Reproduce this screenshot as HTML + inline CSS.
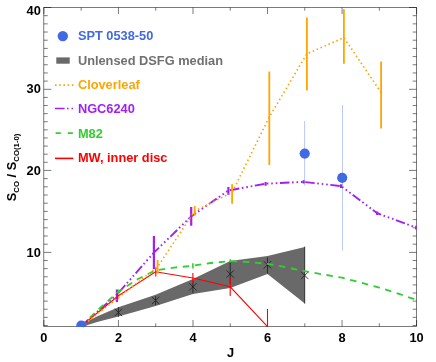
<!DOCTYPE html>
<html><head><meta charset="utf-8"><title>CO SLED</title>
<style>
html,body{margin:0;padding:0;background:#fff;}
body{width:436px;height:362px;overflow:hidden;}
svg{display:block;will-change:transform;}
text{font-family:"Liberation Sans",sans-serif;font-weight:bold;font-size:12.8px;}
</style></head>
<body>
<svg width="436" height="362" viewBox="0 0 436 362">
<defs><clipPath id="c"><rect x="43.85" y="7.5" width="372.70" height="319.40"/></clipPath></defs>
<rect width="436" height="362" fill="#fff"/>
<rect x="43.85" y="7.5" width="372.70" height="319.00" fill="none" stroke="#000" stroke-width="0.52"/>
<path d="M43.90 326.5 v-6.5 M43.90 7.5 v6.5 M81.17 326.5 v-3.2 M81.17 7.5 v3.2 M118.44 326.5 v-6.5 M118.44 7.5 v6.5 M155.71 326.5 v-3.2 M155.71 7.5 v3.2 M192.98 326.5 v-6.5 M192.98 7.5 v6.5 M230.25 326.5 v-3.2 M230.25 7.5 v3.2 M267.52 326.5 v-6.5 M267.52 7.5 v6.5 M304.79 326.5 v-3.2 M304.79 7.5 v3.2 M342.06 326.5 v-6.5 M342.06 7.5 v6.5 M379.33 326.5 v-3.2 M379.33 7.5 v3.2 M416.60 326.5 v-6.5 M416.60 7.5 v6.5 M43.85 325.50 h3.9 M416.55 325.50 h-3.9 M43.85 317.38 h3.9 M416.55 317.38 h-3.9 M43.85 309.26 h3.9 M416.55 309.26 h-3.9 M43.85 301.13 h3.9 M416.55 301.13 h-3.9 M43.85 293.01 h3.9 M416.55 293.01 h-3.9 M43.85 284.89 h3.9 M416.55 284.89 h-3.9 M43.85 276.77 h3.9 M416.55 276.77 h-3.9 M43.85 268.64 h3.9 M416.55 268.64 h-3.9 M43.85 260.52 h3.9 M416.55 260.52 h-3.9 M43.85 252.40 h7.5 M416.55 252.40 h-7.5 M43.85 244.20 h3.9 M416.55 244.20 h-3.9 M43.85 236.00 h3.9 M416.55 236.00 h-3.9 M43.85 227.80 h3.9 M416.55 227.80 h-3.9 M43.85 219.60 h3.9 M416.55 219.60 h-3.9 M43.85 211.40 h3.9 M416.55 211.40 h-3.9 M43.85 203.20 h3.9 M416.55 203.20 h-3.9 M43.85 195.00 h3.9 M416.55 195.00 h-3.9 M43.85 186.80 h3.9 M416.55 186.80 h-3.9 M43.85 178.60 h3.9 M416.55 178.60 h-3.9 M43.85 170.40 h7.5 M416.55 170.40 h-7.5 M43.85 162.29 h3.9 M416.55 162.29 h-3.9 M43.85 154.18 h3.9 M416.55 154.18 h-3.9 M43.85 146.07 h3.9 M416.55 146.07 h-3.9 M43.85 137.96 h3.9 M416.55 137.96 h-3.9 M43.85 129.85 h3.9 M416.55 129.85 h-3.9 M43.85 121.74 h3.9 M416.55 121.74 h-3.9 M43.85 113.63 h3.9 M416.55 113.63 h-3.9 M43.85 105.52 h3.9 M416.55 105.52 h-3.9 M43.85 97.41 h3.9 M416.55 97.41 h-3.9 M43.85 89.30 h7.5 M416.55 89.30 h-7.5 M43.85 81.12 h3.9 M416.55 81.12 h-3.9 M43.85 72.94 h3.9 M416.55 72.94 h-3.9 M43.85 64.76 h3.9 M416.55 64.76 h-3.9 M43.85 56.58 h3.9 M416.55 56.58 h-3.9 M43.85 48.40 h3.9 M416.55 48.40 h-3.9 M43.85 40.22 h3.9 M416.55 40.22 h-3.9 M43.85 32.04 h3.9 M416.55 32.04 h-3.9 M43.85 23.86 h3.9 M416.55 23.86 h-3.9 M43.85 15.68 h3.9 M416.55 15.68 h-3.9 M43.85 7.50 h7.5 M416.55 7.50 h-7.5" stroke="#000" stroke-width="0.52" fill="none"/>
<g clip-path="url(#c)">
<polygon points="81.2,324.3 98,316.1 118.4,307.3 155.6,294.8 192.9,278.9 230.2,261.1 267.5,256.1 304.8,247.0 304.8,303.4 267.5,273.9 230.2,288.0 192.9,294.1 155.6,306.0 118.4,316.4 98,321.7 81.2,327.0" fill="#696969"/>
<path d="M114.7 308.7 L122.10000000000001 316.09999999999997 M114.7 316.09999999999997 L122.10000000000001 308.7 M118.4 307.1 V316.8 M151.9 296.8 L159.29999999999998 304.2 M151.9 304.2 L159.29999999999998 296.8 M155.6 296.0 V305.0 M189.20000000000002 283.1 L196.6 290.5 M189.20000000000002 290.5 L196.6 283.1 M192.9 280.7 V293.2 M226.5 270.3 L233.89999999999998 277.7 M226.5 277.7 L233.89999999999998 270.3 M230.2 261.1 V284.0 M263.8 261.1 L271.2 268.5 M263.8 268.5 L271.2 261.1 M267.5 257.6 V273.6 M301.0 271.7 L308.4 279.09999999999997 M301.0 279.09999999999997 L308.4 271.7 M304.7 246.6 V303.6" stroke="#1a1a1a" stroke-width="0.8" fill="none"/>
<polyline points="81.2,326.0 117.0,294.5 153.9,252.6 191.2,216.4 228.4,190.5 265.6,183.7 303.6,181.9 341.1,186.1 377.2,213.2 416.6,227.7" fill="none" stroke="#A020F0" stroke-width="1.9" stroke-dasharray="9.5 2.6 1.6 2.9 1.6 2.9 1.6 2.6"/>
<path d="M116.9 289.6 V302.0 M153.9 236.0 V269.0 M191.2 207.1 V225.8 M228.4 187.1 V194.8 M265.6 181.9 V185.7 M303.6 180.2 V183.4 M341.1 184.3 V187.9 M377.2 211.4 V214.9 M416.2 225.8 V229.6" stroke="#A020F0" stroke-width="2.2" fill="none"/>
<polyline points="81.2,326.0 100,308.0 118.4,291.8 137,279.5 155.6,270.3 174,267.6 192.9,265.7 211,263.0 230.2,261.1 249,262.0 267.5,263.9 286,267.2 304.8,271.2 323,274.4 342,277.7 360,282.3 379.3,287.6 398,293.6 416.6,299.9" fill="none" stroke="#32CD32" stroke-width="1.85" stroke-dasharray="6.5 5.6"/>
<path d="M192.9 263.3 V268.4 M230.2 259.3 V262.6 M118.9 289.5 V293.5" stroke="#32CD32" stroke-width="1.6" fill="none"/>
<polyline points="81.2,326.0 118.4,295.8 155.6,271.8 192.9,278.0 230.2,286.8 267.5,326.6" fill="none" stroke="#FF0000" stroke-width="1.1"/>
<path d="M117.9 293.0 V299.2 M155.8 267.2 V276.6 M192.9 273.0 V283.0 M230.2 277.6 V296.0 M267.5 309.0 V327.0" stroke="#FF0000" stroke-width="1.1" fill="none"/>
<polyline points="81.2,326.6 157.6,266.8 194.7,211.0 232.1,192.5 269.3,117.0 306.9,53.8 343.9,37.6 381.1,92.5" fill="none" stroke="#FFA500" stroke-width="1.7" stroke-dasharray="1.5 2.8"/>
<path d="M157.6 260.1 V273.5 M194.7 206.1 V215.8 M232.1 184.2 V203.8 M269.3 71.4 V165.0 M306.9 17.4 V90.6 M343.9 9.2 V63.7 M381.1 61.5 V128.6" stroke="#FFA500" stroke-width="1.8" fill="none"/>
<path d="M304.6 121.1 V185.6 M342.5 105.0 V250.5" stroke="#4169E1" stroke-opacity="0.36" stroke-width="1" fill="none"/>
<circle cx="81.3" cy="325.7" r="5.1" fill="#4169E1"/>
<circle cx="304.7" cy="153.6" r="5.1" fill="#4169E1"/>
<circle cx="342.2" cy="177.8" r="5.1" fill="#4169E1"/>
</g>
<polygon points="82.5,326.5 85.5,326.5 83,327.6" fill="#696969"/>
<circle cx="62.8" cy="36.1" r="5.2" fill="#4169E1"/>
<rect x="56.3" y="57.4" width="13.4" height="6.3" fill="#696969"/>
<path d="M55 85.1 H74.5" stroke="#FFA500" stroke-width="1.7" stroke-dasharray="1.6 2.6" fill="none"/>
<path d="M55 108.6 H74" stroke="#A020F0" stroke-width="1.5" stroke-dasharray="9.6 2.4 1.5 3 1.5 3" fill="none"/>
<path d="M55.6 133.1 H74" stroke="#32CD32" stroke-width="1.8" stroke-dasharray="5.2 6.9" fill="none"/>
<path d="M55 158.4 H73.3" stroke="#FF0000" stroke-width="1.6" fill="none"/>
<text x="77.9" y="40.2" fill="#4169E1">SPT 0538-50</text>
<text x="77.9" y="64.6" fill="#707070">Unlensed DSFG median</text>
<text x="77.9" y="88.9" fill="#FFA500">Cloverleaf</text>
<text x="77.9" y="113.4" fill="#A020F0">NGC6240</text>
<text x="77.9" y="137.7" fill="#32CD32">M82</text>
<text x="77.9" y="162.3" fill="#FF0000">MW, inner disc</text>
<text x="43.90" y="342.3" text-anchor="middle">0</text>
<text x="118.44" y="342.3" text-anchor="middle">2</text>
<text x="192.98" y="342.3" text-anchor="middle">4</text>
<text x="267.52" y="342.3" text-anchor="middle">6</text>
<text x="342.06" y="342.3" text-anchor="middle">8</text>
<text x="416.60" y="342.3" text-anchor="middle">10</text>
<text x="40.85" y="14.7" text-anchor="end">40</text>
<text x="40.85" y="93.3" text-anchor="end">30</text>
<text x="40.85" y="174.8" text-anchor="end">20</text>
<text x="40.85" y="256.7" text-anchor="end">10</text>
<text x="230.6" y="356.7" text-anchor="middle">J</text>
<text transform="translate(15.5 201.2) rotate(-90)">S<tspan font-size="7.8" dy="3.5">CO</tspan><tspan dy="-3.5"> / S</tspan><tspan font-size="7.8" dy="3.5">CO(1-0)</tspan></text>
</svg>
</body></html>
